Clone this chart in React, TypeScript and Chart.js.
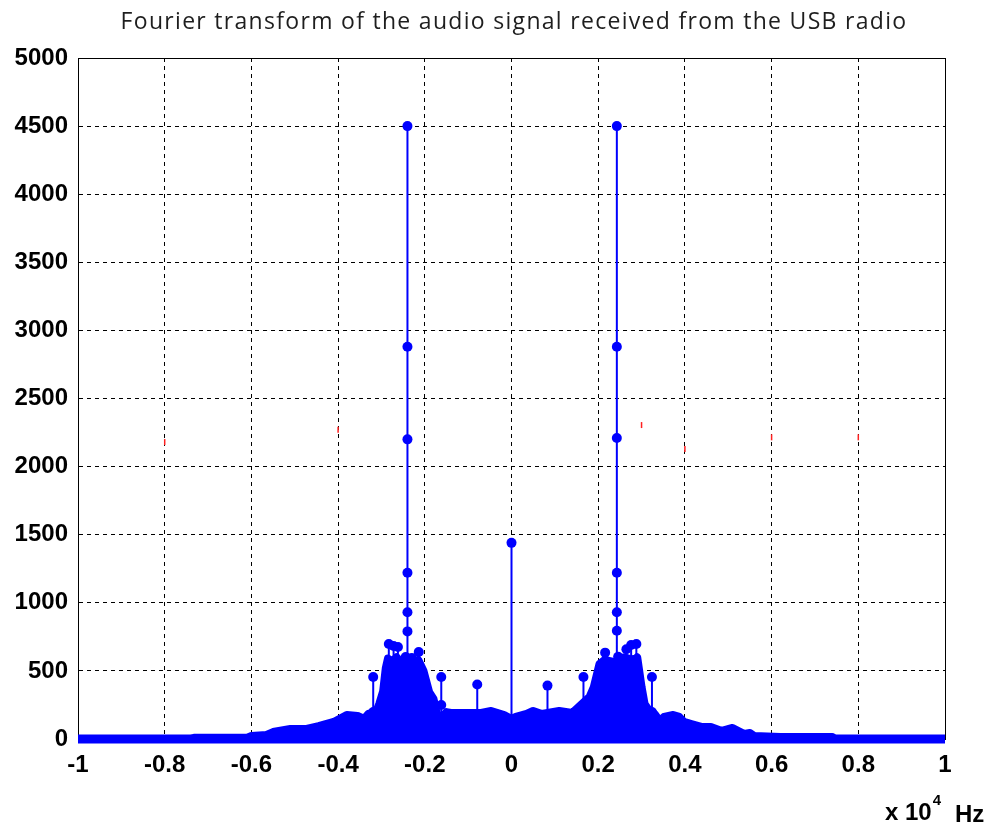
import { useEffect, useRef } from 'react';
import { Chart, registerables } from 'chart.js';

Chart.register(...registerables);

const TITLE = 'Fourier transform of the audio signal received from the USB radio';

// Axis ticks (frequency in units of 10^4 Hz, magnitude)
const xTickValues = [-1, -0.8, -0.6, -0.4, -0.2, 0, 0.2, 0.4, 0.6, 0.8, 1];
const xTickLabels = ['-1', '-0.8', '-0.6', '-0.4', '-0.2', '0', '0.2', '0.4', '0.6', '0.8', '1'];
const yTickValues = [0, 500, 1000, 1500, 2000, 2500, 3000, 3500, 4000, 4500, 5000];
const yTickLabels = ['0', '500', '1000', '1500', '2000', '2500', '3000', '3500', '4000', '4500', '5000'];

// Dense broadband part of the spectrum (upper edge of the packed stems)
const floorFreq = [
  -1.0, -0.74, -0.73, -0.61, -0.6, -0.565, -0.55, -0.51, -0.475, -0.445, -0.41, -0.38, -0.355,
  -0.34, -0.33, -0.312, -0.305, -0.296, -0.29, -0.285, -0.275, -0.265, -0.255, -0.245, -0.235,
  -0.225, -0.215, -0.203, -0.19, -0.18, -0.173, -0.168, -0.16, -0.15, -0.14, -0.1, -0.07, -0.047,
  -0.017, 0, 0.01, 0.035, 0.05, 0.07, 0.11, 0.14, 0.155, 0.18, 0.19, 0.203, 0.215, 0.23, 0.245,
  0.26, 0.27, 0.28, 0.29, 0.3, 0.307, 0.315, 0.33, 0.342, 0.352, 0.373, 0.387, 0.398, 0.415, 0.44,
  0.46, 0.485, 0.51, 0.537, 0.55, 0.56, 0.62, 0.74, 0.745, 1.0,
];
const floorMag = [
  0, 0, 10, 10, 22, 30, 51, 73, 73, 95, 125, 176, 169,
  147, 184, 200, 257, 352, 520, 590, 570, 600, 560, 560, 570,
  560, 580, 499, 345, 294, 198, 147, 160, 198, 191, 191, 191, 206,
  176, 147, 162, 184, 206, 184, 206, 191, 235, 308, 382, 551, 580, 570, 560,
  600, 590, 551, 600, 382, 257, 220, 184, 132, 162, 176, 162, 125, 110, 88,
  88, 59, 81, 37, 44, 22, 15, 15, 0, 0,
];

// Individual spectral lines drawn as stems with a marker on top
const stemFreq = [
  0,
  -0.079, 0.083,
  -0.162, -0.162, 0.166, 0.166,
  -0.319, -0.319, 0.324, 0.324,
  -0.24, -0.24, -0.24, -0.24, -0.24, -0.24,
  0.243, 0.243, 0.243, 0.243, 0.243, 0.243,
  -0.283, -0.272, -0.262, -0.252, -0.244, -0.23, -0.222, -0.214,
  0.216, 0.228, 0.246, 0.265, 0.276, 0.281, 0.288,
];
const stemMag = [
  1440,
  400, 392,
  455, 250, 455, 235,
  455, 198, 455, 198,
  4500, 2880, 2200, 1220, 930, 790,
  4500, 2880, 2210, 1221, 930, 795,
  697, 683, 675, 529, 602, 595, 560, 639,
  634, 529, 604, 659, 690, 580, 697,
];

// Stray red specks
const speckFreq = [-0.8, -0.4, 0.3, 0.4, 0.6, 0.8];
const speckMag = [2180, 2270, 2305, 2130, 2215, 2215];

const BLUE = '#0000ff';
const TICK_FONT = { family: '"Liberation Sans", Arial, sans-serif', weight: 'bold' as const, size: 24 };

const framePlugin = {
  id: 'frame',
  beforeDatasetsDraw(chart: Chart) {
    const { ctx, chartArea: a } = chart;
    ctx.save();
    ctx.strokeStyle = '#000';
    ctx.lineWidth = 1;
    const l = Math.round(a.left) + 0.5;
    const t = Math.round(a.top) + 0.5;
    const r = Math.round(a.right) + 0.5;
    const b = Math.round(a.bottom) + 0.5;
    ctx.strokeRect(l, t, r - l, b - t);
    ctx.restore();
  },
};

const textPlugin = {
  id: 'texts',
  afterDraw(chart: Chart) {
    const { ctx } = chart;
    ctx.save();
    ctx.fillStyle = '#1e1e1e';
    ctx.font = '23px "Open Sans", sans-serif';
    (ctx as any).letterSpacing = '1.3px';
    ctx.textAlign = 'center';
    ctx.textBaseline = 'alphabetic';
    ctx.fillText(TITLE, 514, 29);
    (ctx as any).letterSpacing = '0px';

    ctx.fillStyle = '#000';
    ctx.textAlign = 'left';
    ctx.font = 'bold 24px "Liberation Sans", Arial, sans-serif';
    const base = 'x 10';
    ctx.fillText(base, 885, 820);
    const w = ctx.measureText(base).width;
    ctx.font = 'bold 15px "Liberation Sans", Arial, sans-serif';
    ctx.fillText('4', 885 + w + 1, 805);
    ctx.font = 'bold 24px "Liberation Sans", Arial, sans-serif';
    ctx.fillText('Hz', 955, 822);
    ctx.restore();
  },
};

export default function App() {
  const canvasRef = useRef<HTMLCanvasElement | null>(null);

  useEffect(() => {
    const canvas = canvasRef.current;
    if (!canvas) return;

    const floorData = floorFreq.map((f, i) => ({ x: f, y: floorMag[i] }));
    const stemSegments: { x: number; y: number | null }[] = [];
    stemFreq.forEach((f, i) => {
      stemSegments.push({ x: f, y: 0 }, { x: f, y: stemMag[i] }, { x: f, y: null });
    });
    const stemTops = stemFreq.map((f, i) => ({ x: f, y: stemMag[i] }));
    const baseline = [
      { x: xTickValues[0], y: 0 },
      { x: xTickValues[xTickValues.length - 1], y: 0 },
    ];
    const specks = speckFreq.map((f, i) => ({ x: f, y: speckMag[i] }));

    const chart = new Chart(canvas, {
      type: 'scatter',
      data: {
        datasets: [
          {
            type: 'scatter',
            data: specks,
            pointStyle: 'line',
            rotation: 90,
            pointRadius: 3,
            borderColor: '#ff2020',
            borderWidth: 1.5,
            backgroundColor: '#ff2020',
          },
          {
            type: 'scatter',
            data: stemTops,
            pointRadius: 5,
            pointBackgroundColor: BLUE,
            pointBorderWidth: 0,
            clip: false,
          },
          {
            type: 'line',
            data: stemSegments,
            borderColor: BLUE,
            borderWidth: 2,
            pointRadius: 0,
            spanGaps: false,
            tension: 0,
          },
          {
            type: 'line',
            data: floorData,
            borderColor: BLUE,
            backgroundColor: BLUE,
            borderWidth: 8,
            borderJoinStyle: 'round',
            fill: 'origin',
            pointRadius: 0,
            tension: 0,
            clip: false,
          },
          {
            type: 'line',
            data: baseline,
            borderColor: BLUE,
            borderWidth: 9,
            pointRadius: 0,
            clip: false,
          },
        ],
      },
      options: {
        animation: false,
        responsive: false,
        maintainAspectRatio: false,
        events: [],
        layout: { padding: { top: 58, right: 45, left: 0, bottom: 0 } },
        plugins: {
          legend: { display: false },
          tooltip: { enabled: false },
          title: { display: false },
        },
        scales: {
          x: {
            type: 'linear',
            min: -1,
            max: 1,
            afterBuildTicks: (s: any) => {
              s.ticks = xTickValues.map((v) => ({ value: v }));
            },
            afterFit: (s: any) => {
              s.height = 89;
            },
            ticks: {
              callback: (_v: any, i: number) => xTickLabels[i],
              color: '#000',
              font: TICK_FONT,
              padding: 12,
              maxRotation: 0,
              autoSkip: false,
            },
            grid: { color: '#000', lineWidth: 1, drawTicks: false },
            border: { display: true, color: '#000', width: 1, dash: [4, 4] },
          },
          y: {
            type: 'linear',
            min: 0,
            max: 5000,
            afterBuildTicks: (s: any) => {
              s.ticks = yTickValues.map((v) => ({ value: v }));
            },
            afterFit: (s: any) => {
              s.width = 78;
            },
            ticks: {
              callback: (_v: any, i: number) => yTickLabels[i],
              color: '#000',
              font: TICK_FONT,
              padding: 10,
              autoSkip: false,
            },
            grid: { color: '#000', lineWidth: 1, drawTicks: false },
            border: { display: true, color: '#000', width: 1, dash: [4, 4] },
          },
        },
      },
      plugins: [framePlugin, textPlugin],
    });

    return () => chart.destroy();
  }, []);

  return (
    <div style={{ position: 'absolute', left: 0, top: 0, width: 990, height: 828, background: '#fff' }}>
      <canvas ref={canvasRef} width={990} height={828} />
    </div>
  );
}
